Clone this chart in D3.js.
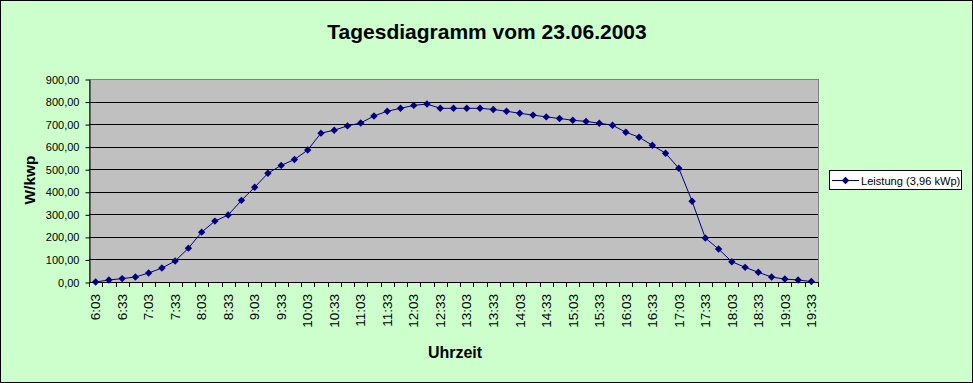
<!DOCTYPE html>
<html><head><meta charset="utf-8">
<script src="https://cdn.jsdelivr.net/npm/d3@7"></script>
<style>html,body{margin:0;padding:0;background:#fff;}svg{display:block;font-family:Arial,"Liberation Sans",sans-serif;}</style>
</head><body>
<svg id="c" width="973" height="383"></svg>
<script>
const times = ["6:03","6:18","6:33","6:48","7:03","7:18","7:33","7:48","8:03","8:18","8:33","8:48","9:03","9:18","9:33","9:48","10:03","10:18","10:33","10:48","11:03","11:18","11:33","11:48","12:03","12:18","12:33","12:48","13:03","13:18","13:33","13:48","14:03","14:18","14:33","14:48","15:03","15:18","15:33","15:48","16:03","16:18","16:33","16:48","17:03","17:18","17:33","17:48","18:03","18:18","18:33","18:48","19:03","19:18","19:33"];
const leistung = [0,9,15,22,40,62,93,150,221,270,297,362,420,482,517,543,585,660,673,692,705,736,757,770,783,789,770,770,770,770,765,757,748,740,732,725,717,712,704,695,664,642,606,571,504,358,195,146,90,65,43,22,13,9,2];
const yTicks = [0,100,200,300,400,500,600,700,800,900];
const seriesName = "Leistung (3,96 kWp)";
const title = "Tagesdiagramm vom 23.06.2003";
const xTitle = "Uhrzeit";
const yTitle = "W/kwp";

const svg = d3.select("#c");
const L = 89, R = 818, T = 79, B = 282;
const x = d3.scaleBand().domain(times).range([L, R]).padding(0);
const y = d3.scaleLinear().domain([0, 900]).range([B, T]);

svg.append("rect").attr("x",0.5).attr("y",0.5).attr("width",972).attr("height",382)
  .attr("fill","#CCFFCC").attr("stroke","#000");

svg.append("rect").attr("x",L).attr("y",T).attr("width",R-L).attr("height",B-T)
  .attr("fill","#C0C0C0").attr("stroke","#808080").attr("shape-rendering","crispEdges");

// gridlines
svg.append("g").selectAll("line").data(yTicks.filter(d => d>0 && d<900)).join("line")
  .attr("x1",L).attr("x2",R).attr("y1",d=>Math.round(y(d))+0.5).attr("y2",d=>Math.round(y(d))+0.5)
  .attr("stroke","#000").attr("stroke-width",1);

// y axis
const yAxis = d3.axisLeft(y).tickValues(yTicks).tickSize(4).tickSizeOuter(0)
  .tickFormat(d => d3.format(".2f")(d).replace(".", ","));
const ga = svg.append("g").attr("transform",`translate(${L+0.5},0.5)`).call(yAxis);
ga.selectAll("text").attr("font-size",11).attr("font-family","Arial, 'Liberation Sans', sans-serif").attr("fill","#000").attr("x",-10);
ga.selectAll("line,path").attr("stroke","#000");

// x axis
const gx = svg.append("g");
gx.append("line").attr("x1",L).attr("x2",R).attr("y1",B+0.5).attr("y2",B+0.5).attr("stroke","#000");
const bounds = times.map(t => x(t)).concat([R]);
gx.selectAll("line.t").data(bounds).join("line").attr("class","t")
  .attr("x1",d=>Math.round(d)+0.5).attr("x2",d=>Math.round(d)+0.5).attr("y1",B).attr("y2",B+5).attr("stroke","#000");
gx.selectAll("text").data(times.filter((t,i)=>i%2===0)).join("text")
  .attr("transform",d=>`translate(${x(d)+x.bandwidth()/2},294) rotate(-90)`)
  .attr("text-anchor","end").attr("dy","0.35em").attr("font-size",13.5).attr("fill","#000").text(d=>d);

// line
const pts = times.map((t,i)=>[x(t)+x.bandwidth()/2, y(leistung[i])]);
svg.append("path").attr("d",d3.line()(pts)).attr("fill","none").attr("stroke","#000080").attr("stroke-width",1);
const diamond = {draw(ctx,size){const r=3.7;ctx.moveTo(0,-r);ctx.lineTo(r,0);ctx.lineTo(0,r);ctx.lineTo(-r,0);ctx.closePath();}};
svg.append("g").selectAll("path").data(pts).join("path")
  .attr("transform",d=>`translate(${d[0]},${d[1]})`).attr("d",d3.symbol().type(diamond)())
  .attr("fill","#000080");

// titles
svg.append("text").attr("x",487).attr("y",39).attr("text-anchor","middle").attr("font-size",21).attr("font-weight","bold").text(title);
svg.append("text").attr("x",455).attr("y",358).attr("text-anchor","middle").attr("font-size",16).attr("font-weight","bold").text(xTitle);
svg.append("text").attr("transform","translate(35,180) rotate(-90)").attr("text-anchor","middle").attr("font-size",15.5).attr("font-weight","bold").text(yTitle);

// legend
const lg = svg.append("g");
lg.append("rect").attr("x",829.5).attr("y",170.5).attr("width",132).attr("height",19).attr("fill","#fff").attr("stroke","#000");
lg.append("line").attr("x1",832).attr("x2",859).attr("y1",180.5).attr("y2",180.5).attr("stroke","#000080");
lg.append("path").attr("transform","translate(845.5,180.5)").attr("d",d3.symbol().type(diamond)()).attr("fill","#000080");
lg.append("text").attr("x",861).attr("y",184.5).attr("font-size",11.1).text(seriesName);
</script>
</body></html>
